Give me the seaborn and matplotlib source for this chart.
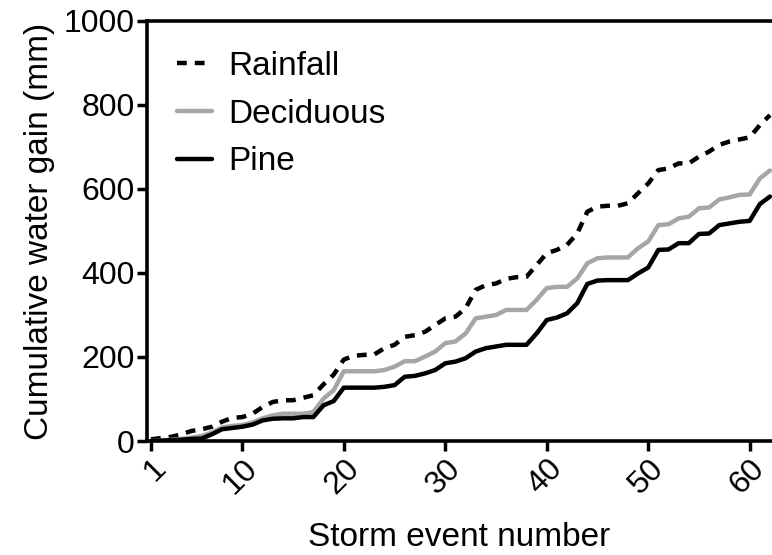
import numpy as np
import pandas as pd
import matplotlib
matplotlib.use("Agg")
import matplotlib.pyplot as plt
import seaborn as sns

events = list(range(1, 63))
rainfall = [4, 7, 10, 16, 24, 28, 34, 46, 55, 57, 65, 81, 93, 97, 97, 103, 109, 135, 158, 194,
            203, 205, 206, 221, 229, 248, 252, 260, 276, 292, 296, 316, 360, 371, 375, 386, 390, 391, 419, 447,
            455, 467, 494, 546, 558, 560, 560, 566, 590, 613, 645, 649, 661, 661, 677, 689, 705, 713, 718, 723,
            752, 776]
deciduous = [0, 1, 3, 5, 8, 12, 20, 32, 36, 38, 44, 54, 61, 65, 65, 65, 69, 101, 121, 166,
             166, 166, 166, 169, 177, 190, 190, 201, 213, 233, 237, 256, 292, 296, 300, 312, 312, 312, 336, 364,
             367, 367, 387, 423, 435, 437, 437, 437, 459, 475, 514, 516, 530, 534, 554, 556, 575, 580, 586, 587,
             625, 644]
pine = [0, 1, 2, 3, 5, 6, 16, 28, 31, 34, 39, 49, 53, 54, 54, 57, 57, 85, 95, 127,
        127, 127, 127, 129, 133, 153, 155, 161, 169, 185, 189, 197, 213, 221, 225, 229, 229, 229, 256, 288,
        294, 304, 328, 374, 382, 383, 383, 383, 399, 413, 455, 456, 471, 471, 493, 494, 514, 518, 522, 524,
        564, 582]
x_ticks = [1, 10, 20, 30, 40, 50, 60]
y_ticks = [0, 200, 400, 600, 800, 1000]

sns.set_style("ticks")
plt.rcParams['font.family'] = ['Liberation Sans', 'DejaVu Sans']
plt.rcParams['text.color'] = 'black'
plt.rcParams['axes.labelcolor'] = 'black'
plt.rcParams['xtick.color'] = 'black'
plt.rcParams['ytick.color'] = 'black'
plt.rcParams['axes.edgecolor'] = 'black'

df = pd.DataFrame({"event": events * 3,
                   "value": rainfall + deciduous + pine,
                   "series": ["Rainfall"] * 62 + ["Deciduous"] * 62 + ["Pine"] * 62})

fig = plt.figure(figsize=(7.72, 5.55), dpi=100)
ax = fig.add_axes([0.1904, 0.2054, 0.8096, 0.7568])

sns.lineplot(data=df[df.series == "Rainfall"], x="event", y="value", ax=ax,
             color="black", lw=3.2, label="Rainfall")
sns.lineplot(data=df[df.series == "Deciduous"], x="event", y="value", ax=ax,
             color="#a6a6a6", lw=3.2, label="Deciduous")
sns.lineplot(data=df[df.series == "Pine"], x="event", y="value", ax=ax,
             color="black", lw=3.2, label="Pine")
ax.lines[0].set_dashes([2.2, 1.8])

ax.set_xlim(0.6, 62.2)
ax.set_ylim(0, 1000)
ax.set_xticks(x_ticks)
ax.set_yticks(y_ticks)
ax.tick_params(axis="both", labelsize=23, width=2.5, length=7, direction="out", pad=2,
               colors="black")
for lab in ax.get_xticklabels():
    lab.set_rotation(45)
    lab.set_ha("right")
    lab.set_rotation_mode("anchor")
for s in ["left", "bottom", "top"]:
    ax.spines[s].set_linewidth(2.6)
    ax.spines[s].set_color("black")
ax.spines["right"].set_visible(False)
ax.set_xlabel("Storm event number", fontsize=24, labelpad=16, color="black")
ax.set_ylabel("Cumulative water gain (mm)", fontsize=24, labelpad=6, color="black")

leg = ax.legend(loc="upper left", frameon=False, fontsize=24, handlelength=1.05,
                handletextpad=0.5, labelspacing=0.5, borderaxespad=0.5,
                bbox_to_anchor=(0.0, 1.0))
for t in leg.get_texts():
    t.set_color("black")

fig.savefig("out.png", dpi=100)
